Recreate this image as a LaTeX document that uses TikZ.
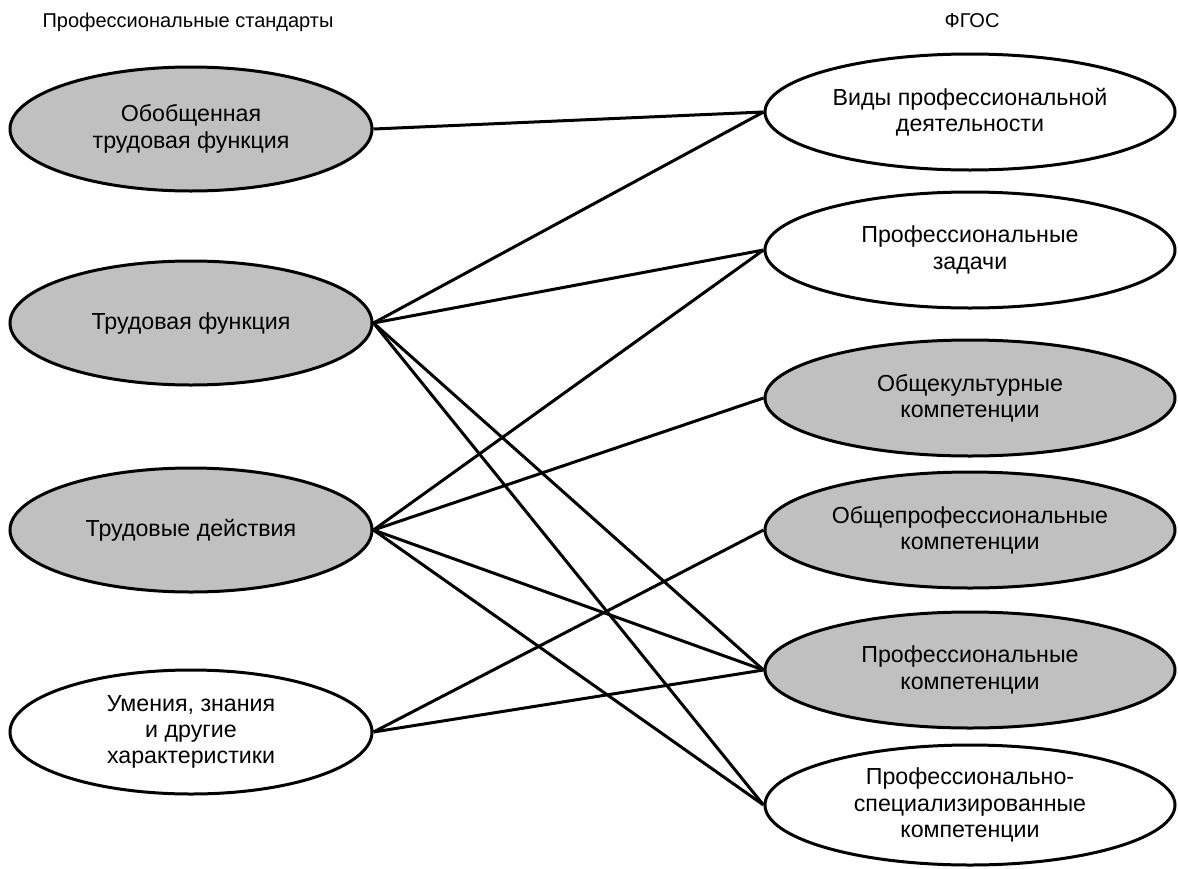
\documentclass[tikz,border=0pt]{standalone}
\usepackage{fontspec}
\setmainfont{Liberation Sans}
\usetikzlibrary{shapes.geometric}

\definecolor{shade}{RGB}{192,192,192}
\tikzset{x=0.5pt, y=-0.5pt}
\tikzset{
 psbox/.style={ellipse, draw, line width=1.5pt, inner sep=0pt,
   minimum width=181pt, minimum height=62pt, align=center,
   font=\fontsize{11.6}{13.2}\selectfont},
 fgbox/.style={psbox, minimum width=205pt, minimum height=58pt},
 grey/.style={fill=shade},
 head/.style={font=\fontsize{10}{12}\selectfont},
 link/.style={line width=1.5pt}
}

\begin{document}
\begin{tikzpicture}
 \useasboundingbox (0,0) rectangle (1178,868);
 % headers
 \node[head] (hps) at (188,22) {Профессиональные стандарты};
 \node[head] (hfg) at (972,21) {ФГОС};
 % left column
 \node[psbox,grey] (otf) at (191,129) {Обобщенная\\трудовая функция};
 \node[psbox,grey] (tf)  at (191,323) {Трудовая функция};
 \node[psbox,grey] (td)  at (191,530) {Трудовые действия};
 \node[psbox]      (uzn) at (191,732) {Умения, знания\\и другие\\характеристики};
 % right column
 \node[fgbox]      (vpd) at (970,112) {Виды профессиональной\\деятельности};
 \node[fgbox]      (pz)  at (970,250) {Профессиональные\\задачи};
 \node[fgbox,grey] (ok)  at (970,398) {Общекультурные\\компетенции};
 \node[fgbox,grey] (opk) at (970,530) {Общепрофессиональные\\компетенции};
 \node[fgbox,grey] (pk)  at (970,670) {Профессиональные\\компетенции};
 \node[fgbox, minimum height=60pt] (psk) at (970,805) {Профессионально-\\специализированные\\компетенции};
 % connectors
 \foreach \a/\b in {otf/vpd, tf/vpd, tf/pz, tf/pk, tf/psk, td/pz, td/ok, td/pk, td/psk, uzn/opk, uzn/pk}
  \draw[link] (\a.east) -- (\b.west);
\end{tikzpicture}
\end{document}
